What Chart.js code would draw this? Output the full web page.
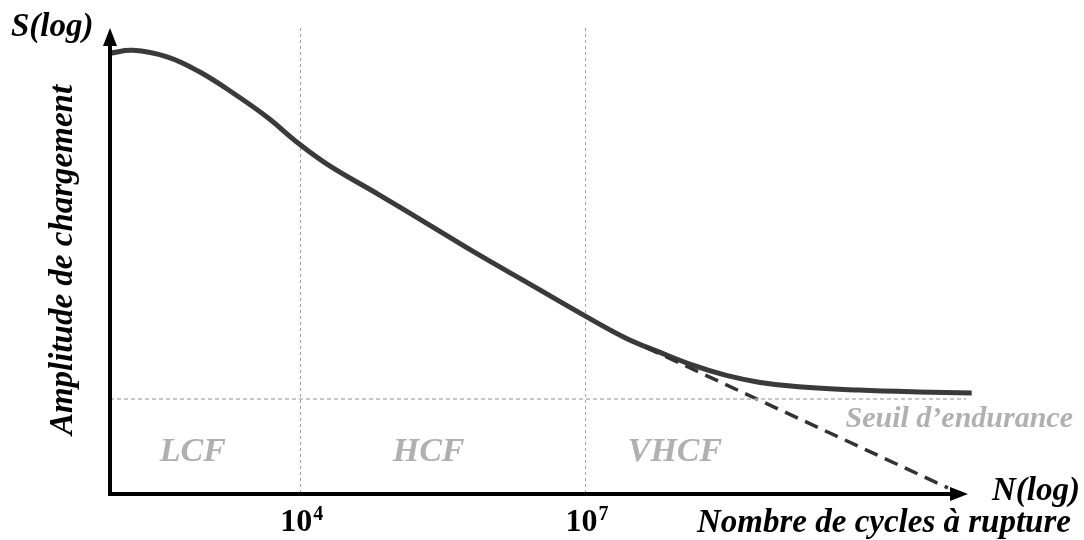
<!DOCTYPE html>
<html>
<head>
<meta charset="utf-8">
<script src="https://cdn.jsdelivr.net/npm/chart.js@4.4.0/dist/chart.umd.min.js"></script>
<style>
  body { margin: 0; background: #fff; }
  #wrap { width: 1084px; height: 540px; }
</style>
</head>
<body>
<div id="wrap"><canvas id="chartSN" width="1084" height="540"></canvas></div>
<script>
// S-N curve, x = log10(N), y = log amplitude (arbitrary units)
const logN = [2.0, 2.24, 2.60, 2.94, 3.29, 3.65, 3.99, 4.31, 4.83, 5.36, 5.88, 6.41, 6.98, 7.42, 7.77, 8.12, 8.47, 8.82, 9.24, 9.87, 10.50, 11.06];
const logS = [9.46, 9.52, 9.38, 9.06, 8.61, 8.09, 7.51, 7.04, 6.42, 5.77, 5.13, 4.51, 3.84, 3.35, 3.05, 2.77, 2.55, 2.40, 2.30, 2.23, 2.19, 2.17];

// extrapolated Basquin line below the endurance limit
const extraN = [7.63, 10.81];
const extraS = [3.15, 0.13];

// endurance limit
const enduranceS = 2.04;
const enduranceN = [2.0, 11.0];

const tickDecades = [4, 7];
const regimes = ['LCF', 'HCF', 'VHCF'];
const regimeCenters = [2.87, 5.35, 7.94];

const serif = '"Liberation Serif", "DejaVu Serif", serif';

const toPoints = (xs, ys) => xs.map((x, i) => ({ x: x, y: ys[i] }));

const decor = {
  id: 'decor',
  afterDraw(chart) {
    const ctx = chart.ctx;
    const a = chart.chartArea;
    const xs = chart.scales.x;
    const ys = chart.scales.y;
    ctx.save();

    // axes with arrowheads
    ctx.strokeStyle = '#000';
    ctx.fillStyle = '#000';
    ctx.lineWidth = 4;
    ctx.beginPath();
    ctx.moveTo(a.left, a.bottom);
    ctx.lineTo(a.left, a.top + 14);
    ctx.moveTo(a.left - 2, a.bottom);
    ctx.lineTo(a.right - 12, a.bottom);
    ctx.stroke();
    ctx.beginPath();
    ctx.moveTo(a.left, a.top);
    ctx.lineTo(a.left - 7, a.top + 18);
    ctx.lineTo(a.left + 7, a.top + 18);
    ctx.closePath();
    ctx.fill();
    ctx.beginPath();
    ctx.moveTo(a.right + 2, a.bottom);
    ctx.lineTo(a.right - 16, a.bottom - 7);
    ctx.lineTo(a.right - 16, a.bottom + 7);
    ctx.closePath();
    ctx.fill();

    // axis titles
    ctx.font = 'italic bold 33px ' + serif;
    ctx.textAlign = 'left';
    ctx.textBaseline = 'alphabetic';
    ctx.fillText('S(log)', 11, 36);
    ctx.fillText('N(log)', 992, 500);
    ctx.fillText('Nombre de cycles à rupture', 697, 532);

    ctx.save();
    ctx.translate(72, 260);
    ctx.rotate(-Math.PI / 2);
    ctx.textAlign = 'center';
    ctx.fillText('Amplitude de chargement', 0, 0);
    ctx.restore();

    // decade tick labels 10^n
    tickDecades.forEach(function (d) {
      const px = xs.getPixelForValue(d);
      ctx.font = 'bold 32px ' + serif;
      const w1 = ctx.measureText('10').width;
      ctx.font = 'bold 20px ' + serif;
      const w2 = ctx.measureText(String(d)).width;
      const x0 = px - (w1 + w2) / 2 + 1;
      ctx.font = 'bold 32px ' + serif;
      ctx.textAlign = 'left';
      ctx.fillText('10', x0, 531);
      ctx.font = 'bold 20px ' + serif;
      ctx.fillText(String(d), x0 + w1 + 1, 520);
    });

    // regime labels and endurance label
    ctx.fillStyle = '#b0b0b0';
    ctx.textAlign = 'center';
    ctx.font = 'italic bold 34px ' + serif;
    regimes.forEach(function (r, i) {
      ctx.fillText(r, xs.getPixelForValue(regimeCenters[i]), 461);
    });
    ctx.textAlign = 'right';
    ctx.font = 'italic bold 30px ' + serif;
    ctx.fillText('Seuil d\u2019endurance', 1073, ys.getPixelForValue(enduranceS) + 28);

    ctx.restore();
  }
};

new Chart(document.getElementById('chartSN').getContext('2d'), {
  type: 'line',
  data: {
    datasets: [
      {
        label: 'Seuil',
        data: toPoints(enduranceN, [enduranceS, enduranceS]),
        borderColor: '#b5b5b5',
        borderWidth: 1.5,
        borderDash: [4, 3],
        pointRadius: 0
      },
      {
        label: 'Basquin',
        data: toPoints(extraN, extraS),
        borderColor: '#333333',
        borderWidth: 3.5,
        borderDash: [14, 8],
        pointRadius: 0,
        clip: false
      },
      {
        label: 'S-N',
        data: toPoints(logN, logS),
        borderColor: '#3a3a3a',
        borderWidth: 5,
        tension: 0.4,
        pointRadius: 0,
        clip: false
      }
    ]
  },
  options: {
    responsive: false,
    animation: false,
    layout: { padding: { left: 110, right: 118, top: 28, bottom: 46 } },
    plugins: { legend: { display: false }, tooltip: { enabled: false } },
    scales: {
      x: {
        type: 'linear',
        min: 2,
        max: 11,
        afterBuildTicks: function (axis) {
          axis.ticks = tickDecades.map(function (v) { return { value: v }; });
        },
        ticks: { display: false },
        border: { display: false, dash: [3, 3] },
        grid: { color: '#a0a0a0', lineWidth: 1, drawTicks: false }
      },
      y: {
        type: 'linear',
        min: 0,
        max: 10,
        display: false
      }
    }
  },
  plugins: [decor]
});
</script>
</body>
</html>
